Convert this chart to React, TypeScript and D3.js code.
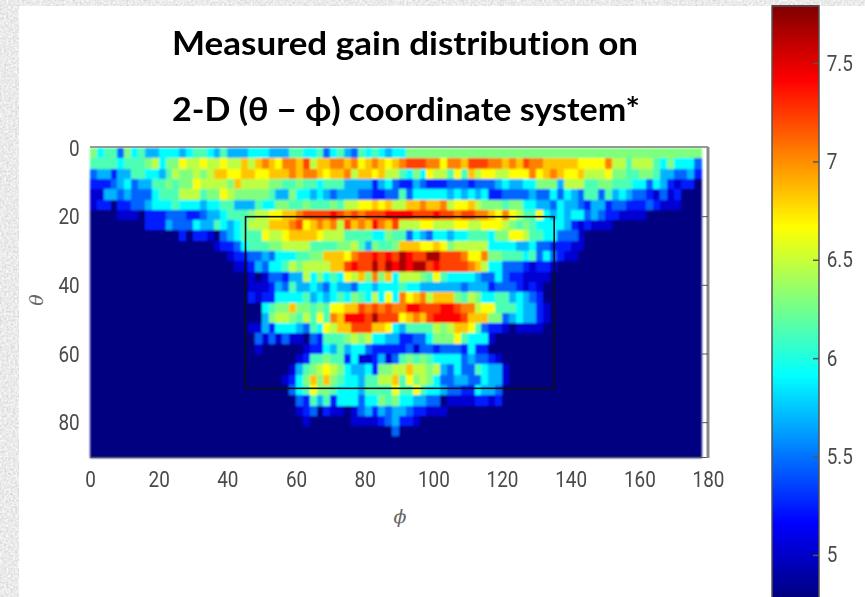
import React, { useRef, useEffect } from "react";
import * as d3 from "d3";

const titleLines = ["Measured gain distribution on", "2-D (θ − ϕ) coordinate system*"];
const phiTicks = [0, 20, 40, 60, 80, 100, 120, 140, 160, 180];
const thetaTicks = [0, 20, 40, 60, 80];
const colorbarTicks = [5, 5.5, 6, 6.5, 7, 7.5];
const gainDomain = [4.786, 7.79];
const boxPhi = [45.3, 135.2];
const boxTheta = [20, 70];

// gain per level code, codes are used in gainRows below
const levelCodes = "0123456789abcde";
const levelGains = [4.79, 5.03, 5.24, 5.46, 5.69, 5.91, 6.14, 6.29, 6.47, 6.66, 6.83, 7.04, 7.22, 7.41, 7.67];

// one row per 3 deg of theta, one code per 2 deg of phi, trailing zeros left out
const gainRows = [
  "7566375644 5554566546 4445554446 6556356436 5654557777 7777777777 7777777777 7777777777 777777777",
  "6666566678 5779889889 88a8aba9bb ac8aabbab9 aba9abcccb b9bbacccbb abacbbaaaa a9999b8868 886575553",
  "3442446655 46877878aa 99aa99aaab abba9aab8a a9a8865759 88696a8998 8999b9aba9 9a88897766 776443342",
  "2223453446 6767798888 7a88887766 7665666444 4245322432 2233323334 5445577748 8866776665 535421220",
  "1144343335 6668886779 8777776447 5545434443 3223363555 5545454522 3333433535 4366364543 321312000",
  "1220223345 5565554556 6444655776 6766676889 9a9a88aaba ab899a8777 6775544354 4324423322 232111000",
  "0000111022 2333223445 66678899aa bccccdcbcb cccddddccc dccbccbba9 b986695454 5534322111 1",
  "0000000022 2433354465 456888aaab c9abab8cab adbac88899 8889988999 8767655554 212111",
  "0000000000 0002022103 456669889a aaa9888666 6557663543 5545566657 7998665533 31",
  "0000000000 0000000012 2356667788 8866667786 47667aaa99 a978888855 5544533222 11",
  "0000000000 0000000000 1223343555 6677aaa9bc cdcdcedcce ecccb99b77 6665635321 1",
  "0000000000 0000000000 0112435568 78888aacdc cecededeec dccccba855 33321221",
  "0000000000 0000000000 0001013324 485756598a 7b7a588876 9655554335 3221111",
  "0000000000 0000000000 0001112436 4454354435 5455565544 4444344423 332121",
  "0000000000 0000000000 0002122555 5645456576 58595b9ab8 aaa7687556 645432",
  "0000000000 0000000000 000005677a 7767699aac bcbcbbddcc cddcbb8996 6654421",
  "0000000000 0000000000 0000047887 68696baddd ceccc9abac ddddcaaa77 3454421",
  "0000000000 0000000000 0001142555 436598aacc caa9546666 878aa96322 101111",
  "0000000000 0000000000 0000313131 1032666787 8554422335 7779655510",
  "0000000000 0000000000 0000100000 0122546455 3222223133 2333252200",
  "0000000000 0000000000 0000000000 1266766251 1241367676 5555343321",
  "0000000000 0000000000 0000000001 4678987544 527788a887 8435336544 1",
  "0000000000 0000000000 0000000012 57a7a76554 6688a69787 5334433544 1",
  "0000000000 0000000000 0000000003 5697765554 6666966965 5433225443",
  "0000000000 0000000000 0000000000 3264625553 5576755443 3011112212",
  "0000000000 0000000000 0000000000 1230211013 4243443221 11",
  "0000000000 0000000000 0000000000 0100000011 1123422100",
  "0000000000 0000000000 0000000000 0000000000 00003",
  "0",
  "0",
];

const NUM_COLS = 89;

// jet colormap stops
const jetStops = [0, 0.125, 0.375, 0.625, 0.875, 1];
const jetColors = ["#000080", "#0000ff", "#00ffff", "#ffff00", "#ff0000", "#800000"];

function App() {
  const svgRef = useRef<SVGSVGElement>(null);

  useEffect(() => {
    const svg = d3.select(svgRef.current);
    svg.selectAll("*").remove();

    const xScale = d3.scaleLinear().domain([0, 180]).range([90, 708]);
    const yScale = d3.scaleLinear().domain([0, 90]).range([148, 457]);
    const fraction = d3.scaleLinear().domain(gainDomain).range([0, 1]);
    const jet = d3.scaleLinear<string>().domain(jetStops).range(jetColors).clamp(true);
    const colorOf = (gain: number) => jet(fraction(gain));

    // filters, paper texture for the margin and the soft look of the screenshot
    const defs = svg.append("defs");
    const paper = defs.append("filter").attr("id", "paper").attr("x", 0).attr("y", 0).attr("width", 1).attr("height", 1);
    paper.append("feTurbulence").attr("type", "fractalNoise").attr("baseFrequency", 0.45).attr("numOctaves", 3).attr("seed", 4);
    paper.append("feColorMatrix").attr("values", "0.45 0 0 0 0.6  0.45 0 0 0 0.6  0.45 0 0 0 0.6  0 0 0 0 1");
    defs.append("filter").attr("id", "soft").append("feGaussianBlur").attr("stdDeviation", 0.8);
    defs.append("filter").attr("id", "softText").append("feGaussianBlur").attr("stdDeviation", 0.4);

    svg.append("rect").attr("width", 865).attr("height", 597).attr("fill", "#ccc").attr("filter", "url(#paper)");
    svg.append("rect").attr("x", 19).attr("y", 6).attr("width", 846).attr("height", 591).attr("fill", "#fff");

    // title
    svg
      .append("g")
      .attr("filter", "url(#softText)")
      .selectAll("text")
      .data(titleLines)
      .join("text")
      .attr("x", 172)
      .attr("y", (d, i) => (i === 0 ? 55 : 121))
      .attr("textLength", (d, i) => (i === 0 ? 466 : 468))
      .attr("lengthAdjust", "spacingAndGlyphs")
      .attr("font-family", "Lato, 'Noto Sans', sans-serif")
      .attr("font-weight", 700)
      .attr("font-size", 33)
      .style("font-variant-ligatures", "none")
      .attr("fill", "#000")
      .text((d) => d);

    // heatmap cells
    const cells: { row: number; col: number; gain: number }[] = [];
    gainRows.forEach((line, row) => {
      const codes = line.replace(/ /g, "").padEnd(NUM_COLS, "0");
      for (let col = 0; col < NUM_COLS; col++) {
        cells.push({ row, col, gain: levelGains[levelCodes.indexOf(codes[col])] });
      }
    });
    svg
      .append("g")
      .attr("filter", "url(#soft)")
      .selectAll("rect")
      .data(cells)
      .join("rect")
      .attr("x", (d) => xScale(d.col * 2))
      .attr("y", (d) => yScale(d.row * 3))
      .attr("width", xScale(2) - xScale(0) + 0.5)
      .attr("height", yScale(3) - yScale(0) + 0.5)
      .attr("shape-rendering", "crispEdges")
      .attr("fill", (d) => colorOf(d.gain));

    // frame of the axes
    const frame = svg.append("g").attr("filter", "url(#softText)");
    frame.append("line").attr("x1", 90).attr("x2", xScale(180)).attr("y1", 147).attr("y2", 147).attr("stroke", "#777").attr("stroke-width", 1.5);
    frame.append("line").attr("x1", 90).attr("x2", xScale(180)).attr("y1", 457.5).attr("y2", 457.5).attr("stroke", "#555").attr("stroke-width", 1);
    frame.append("line").attr("x1", xScale(180)).attr("x2", xScale(180)).attr("y1", 147).attr("y2", 458).attr("stroke", "#8a8a8a").attr("stroke-width", 3);
    frame
      .selectAll(".rtick")
      .data(thetaTicks.slice(1))
      .join("line")
      .attr("class", "rtick")
      .attr("x1", 701)
      .attr("x2", xScale(180))
      .attr("y1", (d) => yScale(d))
      .attr("y2", (d) => yScale(d))
      .attr("stroke", "#555");

    // measured region box
    svg
      .append("rect")
      .attr("x", xScale(boxPhi[0]))
      .attr("y", yScale(boxTheta[0]))
      .attr("width", xScale(boxPhi[1]) - xScale(boxPhi[0]))
      .attr("height", yScale(boxTheta[1]) - yScale(boxTheta[0]))
      .attr("fill", "none")
      .attr("stroke", "#111")
      .attr("stroke-width", 1.6);

    // tick labels, the screenshot is stretched upward a bit so squeeze the glyphs
    const axisFont = (g: any) => {
      g.select(".domain").remove();
      g.selectAll("text")
        .attr("font-family", "Roboto, sans-serif")
        .attr("font-size", 22)
        .attr("fill", "#4a4a4a")
        .attr("transform", "scale(0.86,1)");
      g.attr("filter", "url(#softText)");
    };
    svg
      .append("g")
      .attr("transform", "translate(0,457)")
      .call(d3.axisBottom(xScale).tickValues(phiTicks).tickSize(0).tickPadding(14))
      .call(axisFont);
    svg
      .append("g")
      .attr("transform", "translate(90,0)")
      .call(d3.axisLeft(yScale).tickValues(thetaTicks).tickSize(0).tickPadding(12))
      .call(axisFont);

    // axis names
    svg
      .append("text")
      .attr("x", 400)
      .attr("y", 523)
      .attr("text-anchor", "middle")
      .attr("font-family", "'DejaVu Serif', serif")
      .attr("font-style", "italic")
      .attr("font-size", 19)
      .attr("fill", "#666")
      .text("ϕ");
    svg
      .append("text")
      .attr("transform", "translate(43,300) rotate(-90)")
      .attr("text-anchor", "middle")
      .attr("font-family", "'DejaVu Serif', serif")
      .attr("font-style", "italic")
      .attr("font-size", 19)
      .attr("fill", "#666")
      .text("θ");

    // colorbar
    const barScale = d3.scaleLinear().domain(gainDomain).range([597, 6]);
    const barSteps = d3.range(gainDomain[0], gainDomain[1], 0.01);
    svg
      .append("g")
      .selectAll("rect")
      .data(barSteps)
      .join("rect")
      .attr("x", 772)
      .attr("width", 47)
      .attr("y", (d) => barScale(d + 0.01))
      .attr("height", barScale(0) - barScale(0.01) + 1)
      .attr("shape-rendering", "crispEdges")
      .attr("fill", (d) => colorOf(d));
    svg.append("rect").attr("x", 772).attr("y", 6).attr("width", 47).attr("height", 595).attr("fill", "none").attr("stroke", "#555").attr("stroke-width", 1.5);
    const barAxis = svg
      .append("g")
      .attr("transform", "translate(819,0)")
      .call(d3.axisRight(barScale).tickValues(colorbarTicks).tickFormat((d: any) => String(d)).tickSizeInner(-6).tickSizeOuter(0).tickPadding(9));
    barAxis.select(".domain").remove();
    barAxis.selectAll("line").attr("stroke", "#555").attr("stroke-width", 1.5);
    barAxis
      .selectAll("text")
      .attr("font-family", "Roboto, sans-serif")
      .attr("font-size", 22)
      .attr("fill", "#4a4a4a")
      .attr("transform", "scale(0.86,1)");
    barAxis.attr("filter", "url(#softText)");
  }, []);

  return <svg ref={svgRef} width={865} height={597} style={{ position: "absolute", left: 0, top: 0 }}></svg>;
}

export default App;
